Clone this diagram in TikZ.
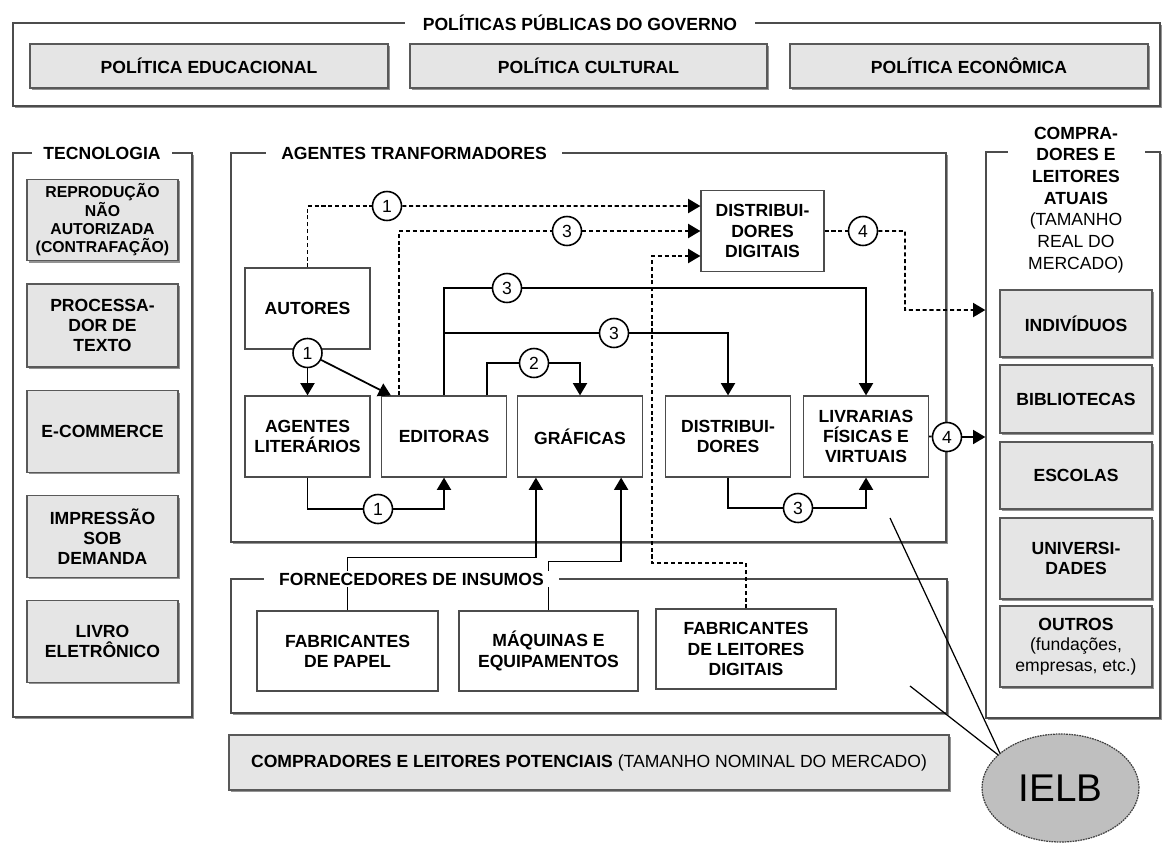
\documentclass[tikz,border=0pt]{standalone}
\usepackage{fontspec}
\setmainfont{Liberation Sans}
\usetikzlibrary{arrows.meta,shadows,shapes.geometric}

\begin{document}
\begin{tikzpicture}
[
	x=0.02cm,
	y=-0.02cm,
	every node/.style={font=\fontsize{10}{11.5}\selectfont\bfseries,align=center},
	panel/.style={draw=black!70,line width=0.8pt,fill=white,inner sep=0pt,
		drop shadow={shadow xshift=1.3pt,shadow yshift=-1.3pt,fill=black!60,opacity=0.7}},
	graybox/.style={draw=black!65,line width=0.7pt,fill=black!10,inner sep=2pt,
		drop shadow={shadow xshift=1pt,shadow yshift=-1pt,fill=black!60,opacity=0.7}},
	whitebox/.style={draw=black!70,line width=0.7pt,fill=white,inner sep=2pt,
		minimum width=2.5cm,minimum height=1.62cm},
	paneltitle/.style={fill=white,inner xsep=0.3cm,inner ysep=1pt},
	numpt/.style={circle,draw,fill=white,line width=0.9pt,inner sep=0pt,
		minimum size=0.58cm,font=\fontsize{10}{11}\selectfont},
	flow/.style={line width=1pt},
	digiflow/.style={line width=1.1pt,dash pattern=on 2.3pt off 1.6pt},
	>={Triangle[width=8pt,length=7pt]}
]

	\useasboundingbox (0,0) rectangle (1165,845);

	% panels
	\node[panel,minimum width=22.94cm,minimum height=1.66cm] (gov) at (586.5,64.5) {};
	\node[panel,minimum width=3.58cm,minimum height=11.28cm] (tec) at (102.5,435) {};
	\node[panel,minimum width=14.3cm,minimum height=7.78cm] (age) at (588.5,347.5) {};
	\node[panel,minimum width=14.32cm,minimum height=2.68cm] (for) at (589,646) {};
	\node[panel,minimum width=3.48cm,minimum height=11.32cm] (buy) at (1073,435) {};

	% government
	\node[graybox,minimum width=7.16cm,minimum height=0.88cm] (edu) at (209,66) {POLÍTICA EDUCACIONAL};
	\node[graybox,minimum width=7.14cm,minimum height=0.88cm] (cul) at (588.5,66) {POLÍTICA CULTURAL};
	\node[graybox,minimum width=7.16cm,minimum height=0.88cm] (eco) at (969,66) {POLÍTICA ECONÔMICA};

	% technology
	\node[graybox,minimum width=3.02cm,minimum height=1.63cm,font=\fontsize{9}{10.4}\selectfont\bfseries] (rep) at (102.5,220) {REPRODUÇÃO\\NÃO\\AUTORIZADA\\(CONTRAFAÇÃO)};
	\node[graybox,minimum width=3.02cm,minimum height=1.66cm] (txt) at (102.5,325.5) {PROCESSA-\\DOR DE\\TEXTO};
	\node[graybox,minimum width=3.02cm,minimum height=1.63cm] (com) at (102.5,431.5) {E-COMMERCE};
	\node[graybox,minimum width=3.02cm,minimum height=1.63cm] (imp) at (102.5,536.5) {IMPRESSÃO\\SOB\\DEMANDA};
	\node[graybox,minimum width=3.02cm,minimum height=1.63cm] (ele) at (102.5,641.5) {LIVRO\\ELETRÔNICO};

	% agents
	\node[whitebox] (aut) at (307.5,308.5) {AUTORES};
	\node[whitebox] (lit) at (307.5,436.5) {AGENTES\\LITERÁRIOS};
	\node[whitebox] (edi) at (444,436.5) {EDITORAS};
	\node[whitebox] (gra) at (580,436.5) {GRÁFICAS};
	\node[whitebox] (dis) at (728,436.5) {DISTRIBUI-\\DORES};
	\node[whitebox] (liv) at (866,436.5) {LIVRARIAS\\FÍSICAS E\\VIRTUAIS};
	\node[whitebox,minimum width=2.46cm] (dig) at (762.5,231) {DISTRIBUI-\\DORES\\DIGITAIS};

	% suppliers
	\node[whitebox,minimum width=3.62cm,minimum height=1.6cm] (pap) at (347.5,651) {FABRICANTES\\DE PAPEL};
	\node[whitebox,minimum width=3.58cm,minimum height=1.6cm] (maq) at (548.5,651) {MÁQUINAS E\\EQUIPAMENTOS};
	\node[whitebox,minimum width=3.6cm,minimum height=1.6cm] (lei) at (746,649) {FABRICANTES\\DE LEITORES\\DIGITAIS};

	% buyers
	\node[graybox,minimum width=3.04cm,minimum height=1.34cm] (ind) at (1076,323.5) {INDIVÍDUOS};
	\node[graybox,minimum width=3.04cm,minimum height=1.36cm] (bib) at (1076,399) {BIBLIOTECAS};
	\node[graybox,minimum width=3.04cm,minimum height=1.34cm] (esc) at (1076,475.5) {ESCOLAS};
	\node[graybox,minimum width=3.04cm,minimum height=1.62cm] (uni) at (1076,558.5) {UNIVERSI-\\DADES};
	\node[graybox,minimum width=3.04cm,minimum height=1.62cm] (out) at (1076,646.5) {OUTROS\\{\mdseries(fundações,}\\{\mdseries empresas, etc.)}};

	\node[graybox,minimum width=14.4cm,minimum height=1.1cm] (pot) at (589,762.5) {COMPRADORES E LEITORES POTENCIAIS {\mdseries(TAMANHO NOMINAL DO MERCADO)}};

	% numbered steps
	\node[numpt] (c1a) at (387,206) {1};
	\node[numpt] (c3a) at (567,231) {3};
	\node[numpt] (c4a) at (863,231) {4};
	\node[numpt] (c3b) at (507,288) {3};
	\node[numpt] (c3c) at (614,333) {3};
	\node[numpt] (c2) at (534,363) {2};
	\node[numpt] (c1b) at (307.5,353) {1};
	\node[numpt] (c1c) at (378,509) {1};
	\node[numpt] (c3d) at (798,508) {3};
	\node[numpt] (c4b) at (947,437) {4};

	% digital flows
	\draw[digiflow] (aut.north) |- (c1a);
	\draw[digiflow,->] (c1a) -- ([yshift=0.5cm]dig.west);
	\draw[digiflow] ([xshift=0.36cm]edi.north west) |- (c3a);
	\draw[digiflow,->] (c3a) -- (dig.west);
	\draw[digiflow,->] (lei.north) |- (652,563) |- ([yshift=-0.5cm]dig.west);
	\draw[digiflow] (dig.east) -- (c4a);
	\draw[digiflow,->] (c4a) -- (905,231) -- (905,310) -- ([yshift=2.5cm]buy.west);

	% physical flows
	\draw[flow,->] (c1b) -- (lit);
	\draw[flow,->] (c1b) -- ([xshift=0.2cm]edi.north west);
	\draw[flow] (lit.south) |- (c1c);
	\draw[flow,->] (c1c) -| (edi.south);
	\draw[flow] (edi.north) |- (c3b);
	\draw[flow,->] (c3b) -| (liv.north);
	\draw[flow] (edi.north |- c3c) -- (c3c);
	\draw[flow,->] (c3c) -| (dis.north);
	\draw[flow] ([xshift=-0.4cm]edi.north east) |- (c2);
	\draw[flow,->] (c2) -| (gra.north);
	\draw[flow] (dis.south) |- (c3d);
	\draw[flow,->] (c3d) -| (liv.south);
	\draw[flow] (liv.east) -- (c4b);
	\draw[flow,->] (c4b) -- (buy.west |- c4b);
	\draw[flow,->] (pap.north) -- ++(0,-53) -| ([xshift=0.38cm]gra.south west);
	\draw[flow,->] (maq.north) -- ++(0,-49) -| ([xshift=-0.44cm]gra.south east);

	% panel titles
	\node[paneltitle,inner xsep=0.35cm] (govt) at (580,23) {POLÍTICAS PÚBLICAS DO GOVERNO};
	\node[paneltitle,inner xsep=0.22cm] (tect) at (102,153) {TECNOLOGIA};
	\node[paneltitle] (aget) at (414,153) {AGENTES TRANFORMADORES};
	\node[paneltitle] (fort) at (411.5,579) {FORNECEDORES DE INSUMOS};
	\node[paneltitle,anchor=north,inner xsep=0.1cm,minimum width=2.74cm,
		font=\fontsize{10}{12.3}\selectfont\bfseries] (buyt) at (1076,125) {COMPRA-\\DORES E\\LEITORES\\ATUAIS\\{\mdseries(TAMANHO}\\{\mdseries REAL DO}\\{\mdseries MERCADO)}};

	% IELB
	\node[ellipse,draw=black!75,line width=0.7pt,dash pattern=on 1pt off 0.5pt,fill=black!25,
		minimum width=3.14cm,minimum height=2.16cm,inner sep=0pt,
		font=\fontsize{22}{24}\selectfont\mdseries] (ielb) at (1060.5,788) {IELB};
	\coordinate (agept) at (890,518);
	\coordinate (forpt) at (910,686);
	\draw[line width=0.7pt] (ielb.150) -- (agept);
	\draw[line width=0.7pt] (ielb.152) -- (forpt);

\end{tikzpicture}
\end{document}
